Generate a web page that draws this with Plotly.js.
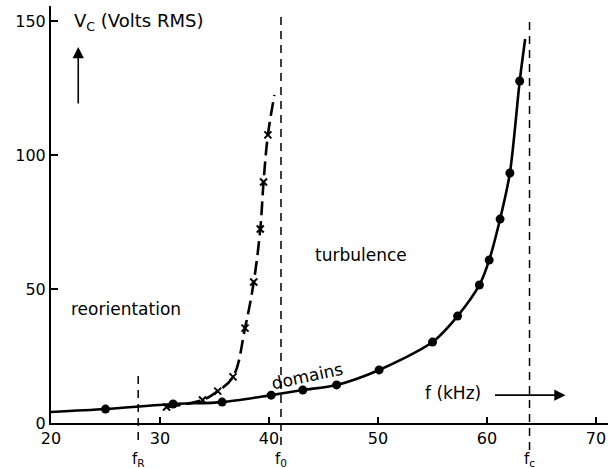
<!DOCTYPE html>
<html>
<head>
<meta charset="utf-8">
<script src="https://cdn.plot.ly/plotly-3.0.1.min.js"></script>
<style>html,body{margin:0;padding:0;background:#fff;}#chart{width:608px;height:468px;}</style>
</head>
<body>
<div id="chart"></div>
<script>
// Solid curve (domains, circles)
const domF = [25.0, 31.2, 35.7, 40.2, 43.1, 46.2, 50.1, 55.0, 57.3, 59.3, 60.2, 61.2, 62.1, 63.0];
const domV = [5.2, 7.1, 7.8, 10.4, 12.3, 14.2, 19.8, 30.2, 39.9, 51.5, 60.8, 76.1, 93.3, 127.6];
const domCurveF = [20.0, 25.0, 31.2, 35.7, 40.2, 43.1, 46.2, 50.1, 55.0, 57.3, 59.3, 60.2, 61.2, 62.1, 63.0, 63.5];
const domCurveV = [4.1, 5.2, 7.1, 7.8, 10.4, 12.3, 14.2, 19.8, 30.2, 39.9, 51.5, 60.8, 76.1, 93.3, 127.6, 143.3];
// Dashed curve (turbulence threshold, crosses)
const turbF = [30.6, 33.9, 35.3, 36.7, 37.8, 38.6, 39.2, 39.5, 39.9];
const turbV = [6.0, 8.6, 11.9, 17.2, 35.4, 52.6, 72.4, 89.9, 107.5];
const turbCurveF = [30.6, 33.9, 35.3, 36.7, 37.8, 38.6, 39.2, 39.5, 39.9, 40.5];
const turbCurveV = [6.0, 8.6, 11.9, 17.2, 35.4, 52.6, 72.4, 89.9, 107.5, 122.4];
// Characteristic frequencies
const markF = [28.0, 41.1, 63.9];
const markLabels = ['f<sub>R</sub>', 'f<sub>0</sub>', 'f<sub>c</sub>'];
const markTop = [0.12, 0.978, 0.966];
const markBottom = [-0.041, -0.053, -0.065];
// Ticks
const xTicks = [20, 30, 40, 50, 60, 70];
const yTicks = [0, 50, 100, 150];

const FONT = 'DejaVu Sans';

const traces = [
  {x: domCurveF, y: domCurveV, mode: 'lines', line: {color: '#000', width: 2.6, shape: 'spline', smoothing: 0.8}, hoverinfo: 'skip'},
  {x: domF, y: domV, mode: 'markers', marker: {color: '#000', size: 9, symbol: 'circle'}},
  {x: turbCurveF, y: turbCurveV, mode: 'lines', line: {color: '#000', width: 2.6, shape: 'spline', smoothing: 1.1, dash: '14px,6px'}, hoverinfo: 'skip'},
  {x: turbF, y: turbV, mode: 'markers', marker: {color: '#000', size: 7, symbol: 'x-thin', line: {color: '#000', width: 2}}}
];

const shapes = markF.map((f, i) => ({
  type: 'line', xref: 'x', yref: 'paper', x0: f, x1: f, y0: markBottom[i], y1: markTop[i],
  line: {color: '#000', width: 1.5, dash: '8px,6px'}
}));

const annotations = [
  {x: 26.9, y: 42.5, text: 'reorientation', showarrow: false, font: {family: FONT, size: 17, color: '#000'}},
  {x: 48.4, y: 62.7, text: 'turbulence', showarrow: false, font: {family: FONT, size: 17, color: '#000'}},
  {x: 43.5, y: 17.6, text: 'domains', showarrow: false, textangle: -12, font: {family: FONT, size: 17, color: '#000'}},
  {x: 56.9, y: 11.2, text: 'f (kHz)', showarrow: false, font: {family: FONT, size: 17, color: '#000'}},
  {x: 21.9, y: 149.6, xanchor: 'left', text: 'V<sub>C</sub> (Volts RMS)', showarrow: false, font: {family: FONT, size: 18, color: '#000'}},
  {x: 67.2, y: 10.4, ax: 60.6, ay: 10.4, axref: 'x', ayref: 'y', text: '', showarrow: true, arrowhead: 2, arrowsize: 1.4, arrowwidth: 1.6, arrowcolor: '#000'},
  {x: 22.5, y: 140.3, ax: 22.5, ay: 118.7, axref: 'x', ayref: 'y', text: '', showarrow: true, arrowhead: 2, arrowsize: 1.4, arrowwidth: 1.6, arrowcolor: '#000'}
].concat(markF.map((f, i) => ({
  x: f, y: -0.062, xref: 'x', yref: 'paper', text: markLabels[i], showarrow: false, yanchor: 'top',
  borderpad: 0, font: {family: FONT, size: 15, color: '#000'}
})));

const layout = {
  width: 608, height: 468,
  margin: {l: 51, r: 0, t: 6, b: 45},
  paper_bgcolor: '#fff', plot_bgcolor: '#fff',
  showlegend: false,
  font: {family: FONT, size: 16, color: '#000'},
  xaxis: {
    range: [20, 71.1], tickvals: xTicks, ticktext: xTicks.map(String),
    showgrid: false, zeroline: false, showline: true, linecolor: '#000', linewidth: 2,
    ticks: 'inside', ticklen: 6, tickwidth: 1.5, tickcolor: '#000',
    tickfont: {family: FONT, size: 16, color: '#000'}, fixedrange: true
  },
  yaxis: {
    range: [0, 155.6], tickvals: yTicks, ticktext: yTicks.map(String),
    showgrid: false, zeroline: false, showline: true, linecolor: '#000', linewidth: 2,
    ticks: 'inside', ticklen: 7, tickwidth: 1.5, tickcolor: '#000',
    tickfont: {family: FONT, size: 16, color: '#000'}, fixedrange: true
  },
  shapes: shapes,
  annotations: annotations
};

Plotly.newPlot('chart', traces, layout, {displayModeBar: false, staticPlot: true});
</script>
</body>
</html>
